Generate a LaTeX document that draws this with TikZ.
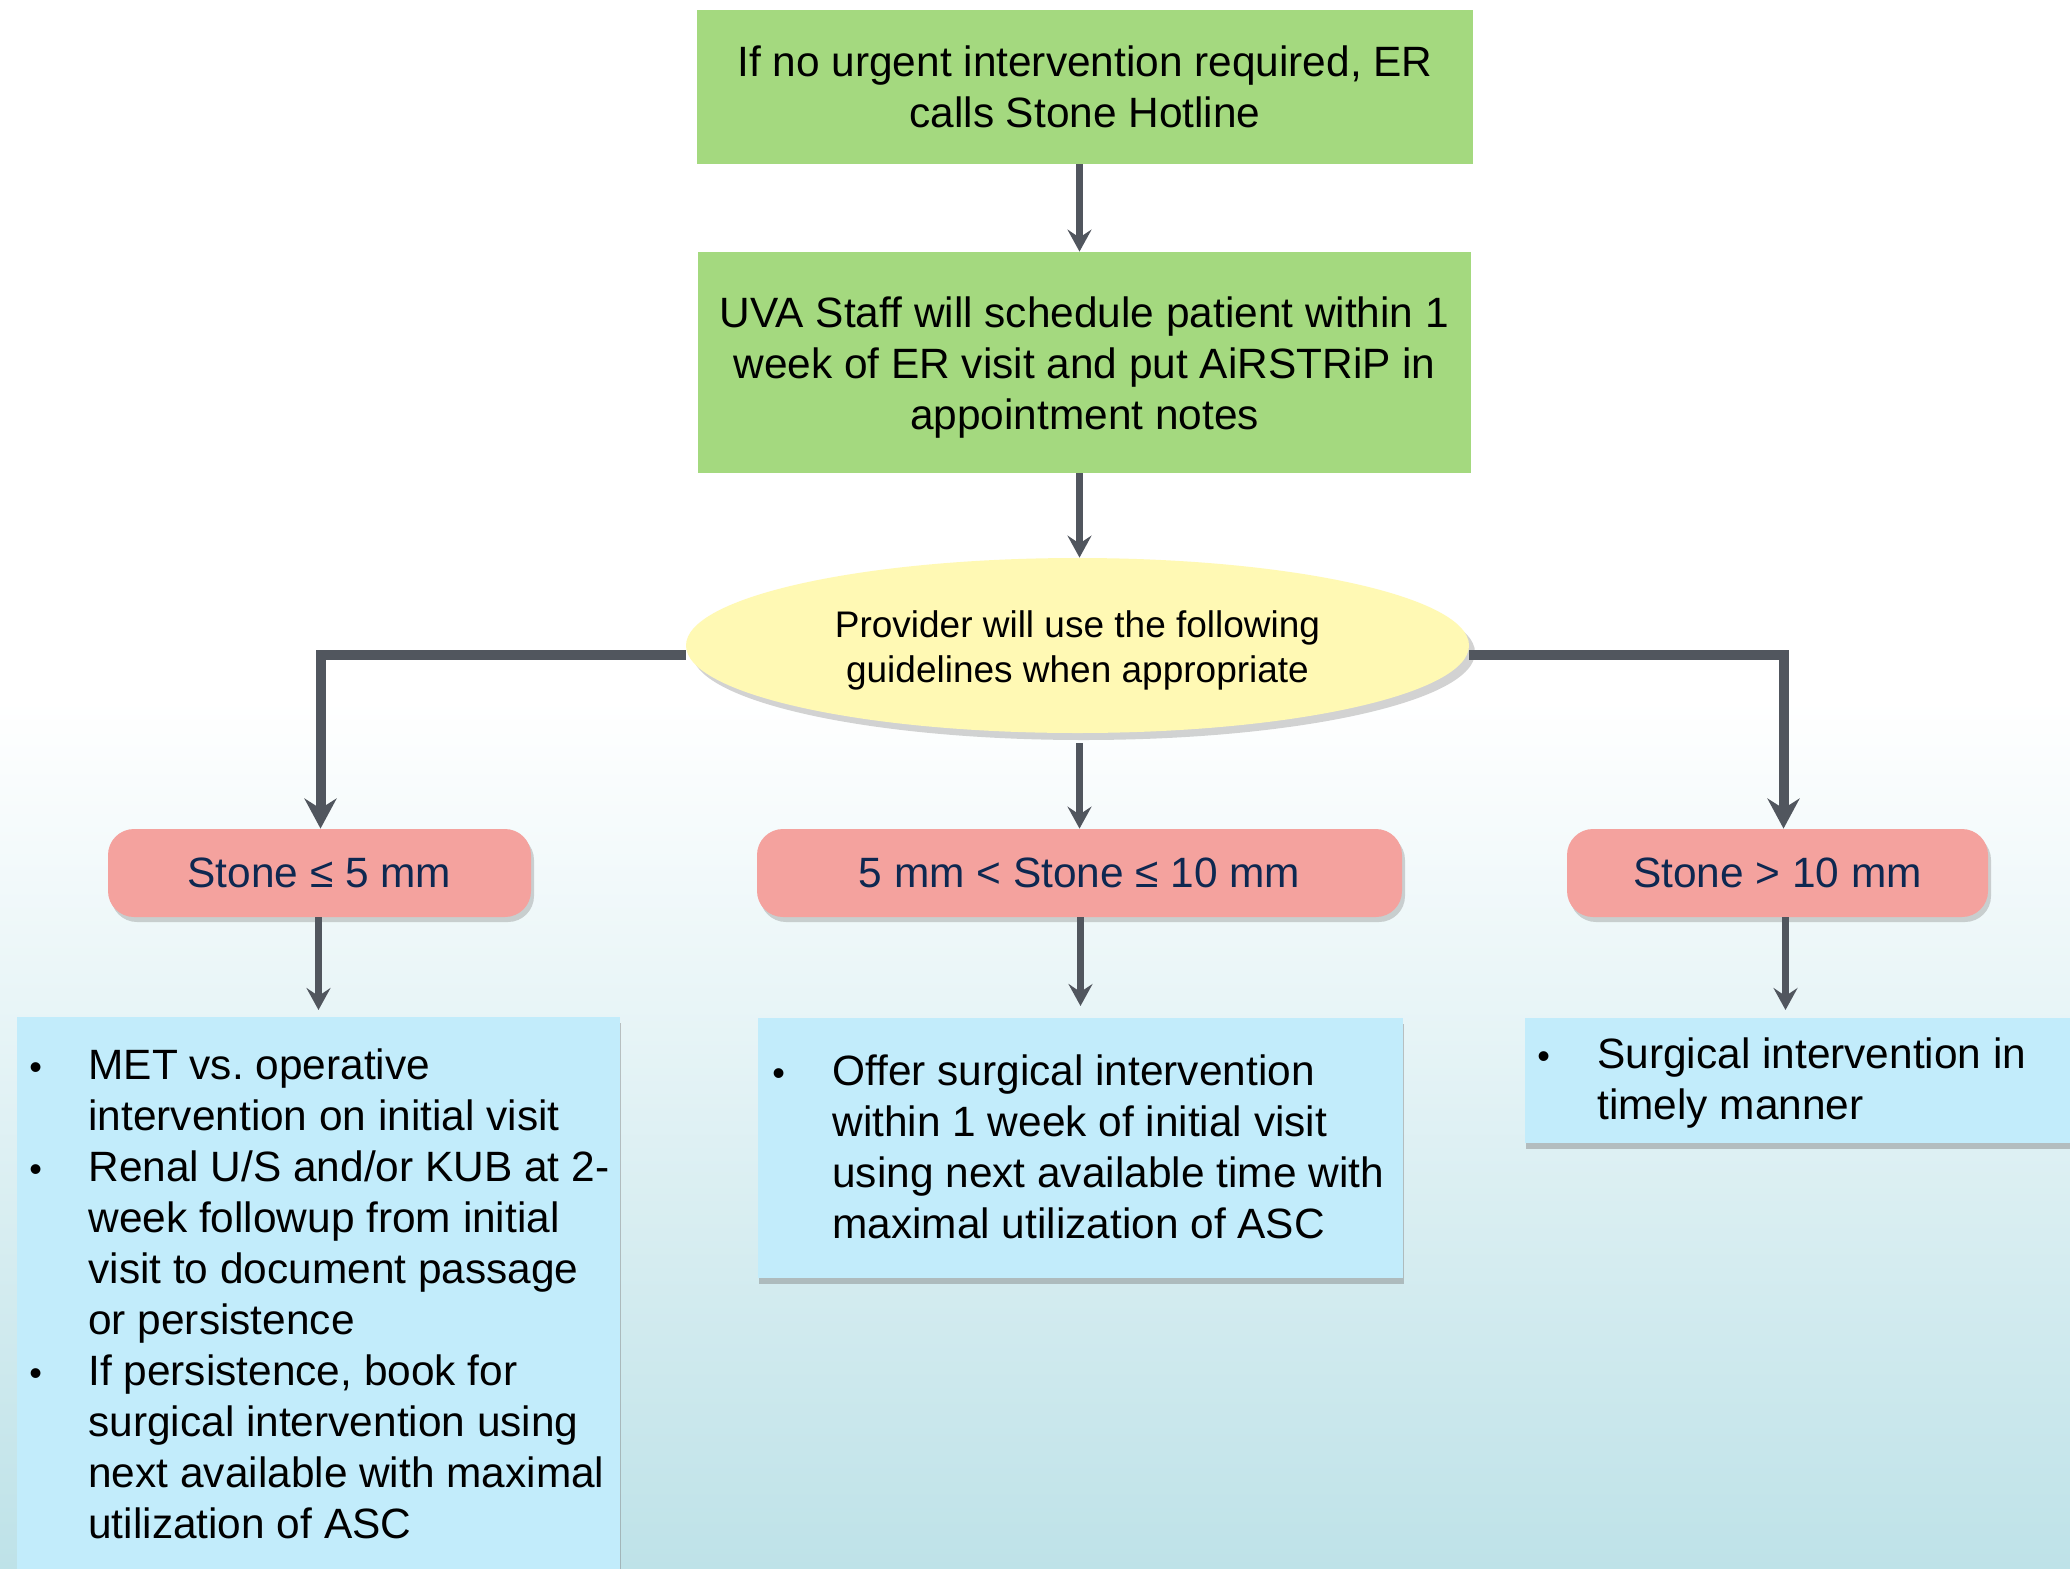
\documentclass[tikz,border=0pt]{standalone}
\usepackage{fontspec}
\setmainfont{Liberation Sans}
\usetikzlibrary{arrows.meta,shapes.geometric,shadows,calc}
\definecolor{gboxc}{RGB}{164,217,127}
\definecolor{yboxc}{RGB}{255,249,180}
\definecolor{pboxc}{RGB}{244,162,158}
\definecolor{bboxc}{RGB}{194,236,251}
\definecolor{connc}{RGB}{81,86,94}
\definecolor{navyc}{RGB}{14,40,81}
\definecolor{bgbot}{RGB}{190,226,232}
\newcommand{\bul}{{\fontsize{18}{18}\selectfont •}}
\frenchspacing
\begin{document}
\begin{tikzpicture}[x=0.5pt,y=-0.5pt,
  bodyfont/.style={font=\fontsize{21.2}{25.5}\selectfont},
  greenbox/.style={fill=gboxc, draw=none, align=center, inner sep=0pt, bodyfont},
  ovalbox/.style={ellipse, fill=yboxc, draw=none, align=center, inner sep=0pt,
    font=\fontsize{18.5}{22.5}\selectfont,
    drop shadow={shadow xshift=3pt, shadow yshift=-3.5pt, opacity=0.35}},
  pinkbox/.style={fill=pboxc, draw=none, rounded corners=13pt, text=navyc, inner sep=0pt, bodyfont,
    drop shadow={shadow xshift=1.5pt, shadow yshift=-2.5pt, opacity=0.35}},
  bluebox/.style={fill=bboxc, draw=none, anchor=north west, inner sep=0pt,
    drop shadow={shadow xshift=0.5pt, shadow yshift=-3pt, opacity=0.45}},
  bluetext/.style={anchor=north west, inner sep=0pt, align=left, bodyfont},
  arr/.style={draw=connc, line width=3.5pt, -{Stealth[length=11pt,width=12pt,inset=4pt]}},
  sarr/.style={draw=connc, line width=5pt, -{Stealth[length=15pt,width=16pt,inset=5pt]}}
]
\useasboundingbox (0,0) rectangle (2070,1568);
\clip (0,0) rectangle (2070,1568);
% background
\fill[white] (0,0) rectangle (2070,1568);
\shade[top color=white, bottom color=bgbot] (0,700) rectangle (2070,1568);

% top boxes
\node[greenbox, minimum width=388pt, minimum height=77pt] (g1) at (1085,87)
  {If no urgent intervention required, ER\\calls Stone Hotline};
\node[greenbox, minimum width=386.5pt, minimum height=110.5pt] (g2) at (1084.5,362.5)
  {\rule{0pt}{20.5pt}UVA Staff will schedule patient within 1\\week of ER visit and put AiRSTRiP in\\appointment notes};
\node[ovalbox, minimum width=391.5pt, minimum height=87.5pt] (ell) at (1077.5,645.5)
  {\rule{0pt}{18pt}Provider will use the following\\guidelines when appropriate};

% pink boxes
\node[pinkbox, minimum width=211.5pt, minimum height=44pt] (p1) at (319.5,873) {Stone ≤ 5 mm};
\node[pinkbox, minimum width=322.5pt, minimum height=44pt] (p2) at (1079.5,873) {5 mm < Stone ≤ 10 mm};
\node[pinkbox, minimum width=210.5pt, minimum height=44pt] (p3) at (1777.5,873) {Stone > 10 mm};

% blue boxes
\node[bluebox, minimum width=301.5pt, minimum height=290pt] (b1) at (17,1017) {};
\node[bluebox, minimum width=322.5pt, minimum height=130pt] (b2) at (758,1018) {};
\node[bluebox, minimum width=285pt, minimum height=62.5pt] (b3) at (1525,1018) {};

\node[bluetext] (t1) at ($(b1.north west)+(12,26)$)
  {\begin{tabular}{@{}p{29.5pt}@{}l@{}}
   \bul & MET vs. operative\\
        & intervention on initial visit\\
   \bul & Renal U/S and/or KUB at 2-\\
        & week followup from initial\\
        & visit to document passage\\
        & or persistence\\
   \bul & If persistence, book for\\
        & surgical intervention using\\
        & next available with maximal\\
        & utilization of ASC
   \end{tabular}};
\node[bluetext] (t2) at ($(b2.north west)+(14,31)$)
  {\begin{tabular}{@{}p{30pt}@{}l@{}}
   \bul & Offer surgical intervention\\
        & within 1 week of initial visit\\
        & using next available time with\\
        & maximal utilization of ASC
   \end{tabular}};
\node[bluetext] (t3) at ($(b3.north west)+(12,14)$)
  {\begin{tabular}{@{}p{30pt}@{}l@{}}
   \bul & Surgical intervention in\\
        & timely manner
   \end{tabular}};

% connectors
\draw[arr] (g1.south -| p2.north) -- (g2.north -| p2.north);
\draw[arr] (g2.south -| p2.north) -- (ell.north -| p2.north);
\draw[arr, shorten <=5pt] (ell.south -| p2.north) -- (p2.north);
\draw[sarr] ([yshift=-4.5pt]ell.west) -| ([xshift=0.5pt]p1.north);
\draw[sarr] ([yshift=-4.5pt]ell.east) -| ([xshift=3pt]p3.north);
\draw[arr, shorten >=3.5pt] ([xshift=-0.5pt]p1.south) -- ([xshift=-0.5pt]p1.south |- b1.north);
\draw[arr, shorten >=6pt] ([xshift=0.5pt]p2.south) -- ([xshift=0.5pt]p2.south |- b2.north);
\draw[arr, shorten >=4pt] ([xshift=4pt]p3.south) -- ([xshift=4pt]p3.south |- b3.north);
\end{tikzpicture}
\end{document}
